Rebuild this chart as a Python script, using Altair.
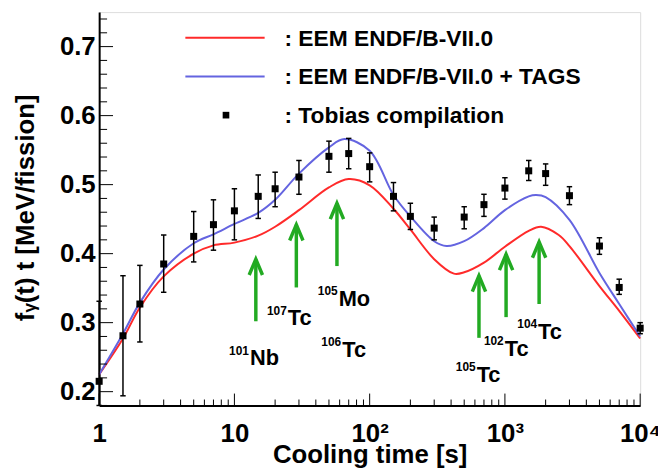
import altair as alt
import pandas as pd

# ---------------- data ----------------
# Tobias compilation (points with error bars)
pt_t = [1, 1.5, 2, 3, 5, 7, 10, 15, 20, 30, 50, 70, 100, 150, 200, 300, 500, 700,
        1000, 1500, 2000, 3000, 5000, 7000, 10000]
pt_y = [0.215, 0.281, 0.327, 0.385, 0.425, 0.442, 0.462, 0.483, 0.494, 0.511, 0.541,
        0.545, 0.526, 0.483, 0.454, 0.437, 0.453, 0.471, 0.495, 0.520, 0.516, 0.484,
        0.411, 0.351, 0.292]
pt_lo = [0.180, 0.194, 0.272, 0.344, 0.388, 0.405, 0.420, 0.451, 0.468, 0.486, 0.518,
         0.523, 0.504, 0.462, 0.435, 0.420, 0.436, 0.454, 0.479, 0.506, 0.499, 0.471,
         0.399, 0.341, 0.284]
pt_hi = [0.331, 0.368, 0.383, 0.427, 0.461, 0.478, 0.494, 0.514, 0.518, 0.535, 0.563,
         0.567, 0.546, 0.503, 0.473, 0.453, 0.468, 0.486, 0.510, 0.535, 0.530, 0.497,
         0.423, 0.363, 0.300]

# EEM ENDF/B-VII.0 (red)
red_t = [1, 1.5, 2, 3, 5, 7, 10, 15, 20, 30, 50, 70, 100, 150, 200, 300, 420, 500,
         700, 1000, 1500, 1850, 2500, 3000, 5000, 7000, 10000]
red_v = [0.225, 0.277, 0.322, 0.367, 0.400, 0.412, 0.416, 0.426, 0.439, 0.463, 0.496,
         0.508, 0.499, 0.465, 0.435, 0.392, 0.371, 0.373, 0.387, 0.410, 0.433, 0.439,
         0.427, 0.411, 0.353, 0.317, 0.277]

# EEM ENDF/B-VII.0 + TAGS (blue)
blue_t = [1, 1.5, 2, 3, 5, 7, 10, 15, 20, 30, 50, 65, 100, 150, 200, 300, 370, 500,
          700, 1000, 1500, 1700, 2000, 3000, 5000, 7000, 10000]
blue_v = [0.225, 0.284, 0.329, 0.377, 0.415, 0.428, 0.443, 0.459, 0.478, 0.516, 0.554,
          0.566, 0.549, 0.485, 0.454, 0.418, 0.411, 0.418, 0.437, 0.463, 0.483, 0.485,
          0.482, 0.449, 0.372, 0.327, 0.280]

series_names = [": EEM ENDF/B-VII.0", ": EEM ENDF/B-VII.0 + TAGS"]
points_name = ": Tobias compilation"

# green arrows (time, tip value, base value)
arr_t = [14.4, 28.7, 57.3, 643, 1020, 1790]
arr_tip = [0.392, 0.442, 0.473, 0.368, 0.399, 0.417]
arr_base = [0.302, 0.351, 0.382, 0.278, 0.308, 0.327]

# isotope labels
iso_mass = ["101", "107", "105", "106", "105", "102", "104"]
iso_sym = ["Nb", "Tc", "Mo", "Tc", "Tc", "Tc", "Tc"]
iso_t = [12.8, 24.4, 58, 61.6, 608, 980, 1730]
iso_y = [0.238, 0.296, 0.324, 0.250, 0.214, 0.252, 0.276]

x_major = [1, 10, 100, 1000, 10000]
y_major = [0.2, 0.3, 0.4, 0.5, 0.6, 0.7]

# ---------------- styling ----------------
W, H = 546, 397
RED = "#ff2a2a"
BLUE = "#6464e0"
GREEN = "#22aa22"
FONT = "Liberation Sans"

xscale = alt.Scale(type="log", domain=[1, 10000])
yscale = alt.Scale(domain=[0.18, 0.75], zero=False)

x_minor = [k * d for d in [1, 10, 100, 1000] for k in range(2, 10)]
y_minor = [round(0.18 + 0.02 * i, 2) for i in range(29)]
y_minor = [v for v in y_minor if round(v * 10, 6) != round(v * 10)]

xaxis = alt.Axis(
    values=x_major, ticks=False, tickSize=0, grid=False, labelFlush=False,
    labelExpr="datum.value == 1 ? '1' : datum.value == 10 ? '10' : datum.value == 100 ? '10\u00b2' : datum.value == 1000 ? '10\u00b3' : '10\u2074'",
    labelFont=FONT, labelFontWeight="bold", labelFontSize=26, labelColor="black",
    labelPadding=15, labelBaseline="top",
    domainColor="black", domainWidth=2,
    title="Cooling time [s]", titleFont=FONT, titleFontWeight="bold", titleFontSize=26,
    titleColor="black", titleX=W / 2, titleY=58, titleBaseline="alphabetic", titleAlign="center",
)
yaxis = alt.Axis(
    values=y_major, format=".1f", ticks=False, tickSize=0, grid=False,
    labelFont=FONT, labelFontWeight="bold", labelFontSize=26, labelColor="black",
    labelPadding=4, labelBaseline="middle",
    domainColor="black", domainWidth=2,
    title="f\u1d67(t) t [MeV/fission]", titleFont=FONT, titleFontWeight="bold", titleFontSize=26,
    titleColor="black", titleAngle=270, titleX=-74, titleY=197, titleAlign="center",
    titleBaseline="middle",
)

curves = pd.DataFrame(
    {"t": red_t + blue_t,
     "v": red_v + blue_v,
     "series": [series_names[0]] * len(red_t) + [series_names[1]] * len(blue_t)}
)
pts = pd.DataFrame({"t": pt_t, "y": pt_y, "lo": pt_lo, "hi": pt_hi})
arrows = pd.DataFrame({"t": arr_t, "tip": arr_tip, "base": arr_base})
isos = pd.DataFrame({"t": iso_t, "y": iso_y, "mass": iso_mass, "sym": iso_sym})

lines = alt.Chart(curves).mark_line(strokeWidth=2, interpolate="catmull-rom").encode(
    x=alt.X("t:Q", scale=xscale, axis=xaxis),
    y=alt.Y("v:Q", scale=yscale, axis=yaxis),
    color=alt.Color("series:N", scale=alt.Scale(domain=series_names, range=[RED, BLUE]), legend=None),
    detail="series:N",
)

ebars = alt.Chart(pts).mark_rule(color="black", strokeWidth=1.5).encode(
    x=alt.X("t:Q", scale=xscale), y=alt.Y("lo:Q", scale=yscale), y2="hi:Q"
)
cap_lo = alt.Chart(pts).mark_point(shape="stroke", filled=False, color="black",
                                   strokeWidth=1.5, size=30, opacity=1).encode(
    x=alt.X("t:Q", scale=xscale), y=alt.Y("lo:Q", scale=yscale)
)
cap_hi = alt.Chart(pts).mark_point(shape="stroke", filled=False, color="black",
                                   strokeWidth=1.5, size=30, opacity=1).encode(
    x=alt.X("t:Q", scale=xscale), y=alt.Y("hi:Q", scale=yscale)
)
squares = alt.Chart(pts).mark_point(shape="square", filled=True, color="black",
                                    size=50, opacity=1).encode(
    x=alt.X("t:Q", scale=xscale), y=alt.Y("y:Q", scale=yscale)
)

shafts = alt.Chart(arrows).mark_rule(color=GREEN, strokeWidth=3.5).encode(
    x=alt.X("t:Q", scale=xscale), y=alt.Y("base:Q", scale=yscale), y2="tip:Q"
)
heads = alt.Chart(arrows).mark_point(shape="M-0.42,1L0,0L0.42,1", filled=False,
                                     stroke=GREEN, strokeWidth=3.5, size=1024,
                                     opacity=1).encode(
    x=alt.X("t:Q", scale=xscale), y=alt.Y("tip:Q", scale=yscale)
)

iso_main = alt.Chart(isos).mark_text(align="left", baseline="alphabetic", font=FONT,
                                     fontWeight="bold", fontSize=22, color="black", dx=1).encode(
    x=alt.X("t:Q", scale=xscale), y=alt.Y("y:Q", scale=yscale), text="sym:N"
)
iso_sup = alt.Chart(isos).mark_text(align="right", baseline="alphabetic", font=FONT,
                                    fontWeight="bold", fontSize=12, color="black", dy=-11).encode(
    x=alt.X("t:Q", scale=xscale), y=alt.Y("y:Q", scale=yscale), text="mass:N"
)

# x / y ticks drawn inside the frame (ROOT style)
xt_major = alt.Chart(pd.DataFrame({"t": x_major})).mark_rule(color="black", strokeWidth=1).encode(
    x=alt.X("t:Q", scale=xscale), y=alt.value(H), y2=alt.value(H - 12)
)
xt_minor = alt.Chart(pd.DataFrame({"t": x_minor})).mark_rule(color="black", strokeWidth=1).encode(
    x=alt.X("t:Q", scale=xscale), y=alt.value(H), y2=alt.value(H - 6)
)
yt_major = alt.Chart(pd.DataFrame({"v": y_major})).mark_rule(color="black", strokeWidth=1).encode(
    y=alt.Y("v:Q", scale=yscale), x=alt.value(0), x2=alt.value(14)
)
yt_minor = alt.Chart(pd.DataFrame({"v": y_minor})).mark_rule(color="black", strokeWidth=1).encode(
    y=alt.Y("v:Q", scale=yscale), x=alt.value(0), x2=alt.value(8)
)

# manual legend (ROOT style, no box)
one = pd.DataFrame({"a": [0]})
leg_red = alt.Chart(one).mark_rule(color=RED, strokeWidth=2).encode(
    x=alt.value(87), x2=alt.value(167), y=alt.value(26))
leg_blue = alt.Chart(one).mark_rule(color=BLUE, strokeWidth=2).encode(
    x=alt.value(87), x2=alt.value(167), y=alt.value(65))
leg_sq = alt.Chart(one).mark_point(shape="square", filled=True, color="black", size=45,
                                   opacity=1).encode(x=alt.value(128), y=alt.value(104))
leg_texts = []
for lbl, yy in zip(series_names + [points_name], [27, 66, 105]):
    leg_texts.append(
        alt.Chart(one).mark_text(align="left", baseline="middle", font=FONT, fontWeight="bold",
                                 fontSize=23, color="black").encode(
            x=alt.value(187), y=alt.value(yy), text=alt.value(lbl))
    )

chart = alt.layer(
    lines, ebars, cap_lo, cap_hi, squares, shafts, heads, iso_sup, iso_main,
    xt_major, xt_minor, yt_major, yt_minor,
    leg_red, leg_blue, leg_sq, *leg_texts,
).properties(
    width=W, height=H,
    padding={"left": 92, "top": 2, "right": 18, "bottom": 64},
    autosize="none",
).configure_view(
    stroke="#444", strokeWidth=1.5
).configure(background="white")

chart.save("out.html", embed_options={"renderer": "svg", "actions": False})
